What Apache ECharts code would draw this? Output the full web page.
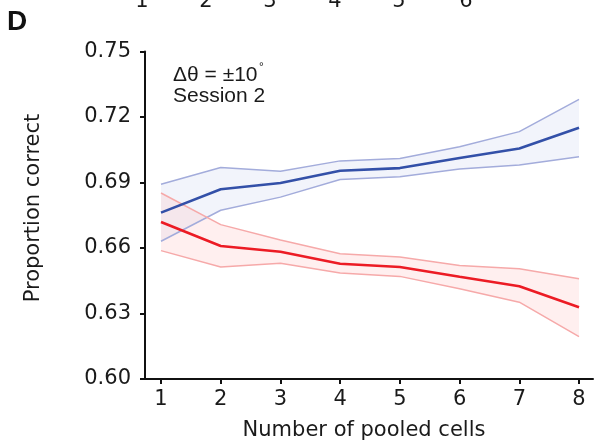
<!DOCTYPE html>
<html>
<head>
<meta charset="utf-8">
<script src="https://cdn.jsdelivr.net/npm/echarts@6/dist/echarts.min.js"></script>
<style>html,body{margin:0;padding:0;background:#fff}#c{width:597px;height:445px}</style>
</head>
<body>
<div id="c"></div>
<script>
// ---- data ----
var pooledCells = [1, 2, 3, 4, 5, 6, 7, 8];
var blueMean  = [0.6762, 0.6869, 0.6898, 0.6954, 0.6966, 0.7012, 0.7056, 0.7151];
var blueUpper = [0.6892, 0.6969, 0.6952, 0.6999, 0.7010, 0.7064, 0.7133, 0.7281];
var blueLower = [0.6631, 0.6773, 0.6833, 0.6914, 0.6926, 0.6962, 0.6980, 0.7018];
var redMean   = [0.6719, 0.6609, 0.6583, 0.6528, 0.6513, 0.6468, 0.6425, 0.6329];
var redUpper  = [0.6852, 0.6707, 0.6637, 0.6574, 0.6559, 0.6520, 0.6505, 0.6459];
var redLower  = [0.6588, 0.6513, 0.6530, 0.6485, 0.6470, 0.6413, 0.6352, 0.6194];
var yTicks = [0.60, 0.63, 0.66, 0.69, 0.72, 0.75];
var topCutLabels = ['1', '2', '3', '4', '5', '6'];

var FONT = 'DejaVu Sans';

function pairs(ys) { return pooledCells.map(function (x, i) { return [x, ys[i]]; }); }

function bandSeries(upper, lower, fill) {
  return {
    type: 'custom',
    silent: true,
    z: 1,
    encode: { x: 0, y: 1 },
    data: pairs(upper).concat(pairs(lower)),
    renderItem: function (params, api) {
      if (params.dataIndex !== 0) return;
      var pts = [];
      for (var i = 0; i < pooledCells.length; i++) pts.push(api.coord([pooledCells[i], upper[i]]));
      for (var j = pooledCells.length - 1; j >= 0; j--) pts.push(api.coord([pooledCells[j], lower[j]]));
      return { type: 'polygon', shape: { points: pts }, style: { fill: fill } };
    }
  };
}

function lineSeries(ys, color, width, z) {
  return {
    type: 'line', data: pairs(ys), symbol: 'none', silent: true, z: z,
    lineStyle: { color: color, width: width }
  };
}

var topXs = [142, 206, 270, 335, 399, 466];
var topGraphics = topCutLabels.map(function (t, i) {
  return { type: 'text', x: topXs[i], y: 2, style: { text: t, font: '21px "DejaVu Sans"', fill: '#1a1a1a', textAlign: 'center', textVerticalAlign: 'middle' } };
});

var chart = echarts.init(document.getElementById('c'), null, { renderer: 'canvas' });
chart.setOption({
  animation: false,
  backgroundColor: '#ffffff',
  grid: { left: 145, right: 4, top: 51.5, bottom: 66 },
  xAxis: {
    type: 'value', min: 0.732, max: 8.234,
    splitLine: { show: false },
    axisLine: { lineStyle: { color: '#111', width: 2 } },
    axisTick: { show: true, length: 5, lineStyle: { color: '#111', width: 2 }, customValues: pooledCells },
    axisLabel: { customValues: pooledCells, fontFamily: FONT, fontSize: 21, color: '#1a1a1a', margin: 10 }
  },
  yAxis: {
    type: 'value', min: 0.60, max: 0.75,
    splitLine: { show: false },
    axisLine: { show: true, lineStyle: { color: '#111', width: 2 } },
    axisTick: { show: true, length: 5, lineStyle: { color: '#111', width: 2 }, customValues: yTicks },
    axisLabel: { customValues: yTicks, fontFamily: FONT, fontSize: 21, color: '#1a1a1a', margin: 14,
      formatter: function (v) { return v.toFixed(2); } }
  },
  series: [
    bandSeries(blueUpper, blueLower, 'rgba(205,213,238,0.26)'),
    bandSeries(redUpper, redLower, 'rgba(255,195,195,0.26)'),
    lineSeries(blueUpper, '#a3acdb', 1.5, 3),
    lineSeries(blueLower, '#a3acdb', 1.5, 3),
    lineSeries(redUpper, '#f6a9a9', 1.5, 3),
    lineSeries(redLower, '#f6a9a9', 1.5, 3),
    lineSeries(blueMean, '#3350a8', 2.6, 4),
    lineSeries(redMean, '#ec1b24', 2.6, 4)
  ],
  graphic: topGraphics.concat([
    { type: 'text', x: 7, y: 22, style: { text: 'D', font: 'bold 28px "Liberation Sans"', fill: '#111', textVerticalAlign: 'middle' } },
    { type: 'text', x: 173, y: 75, style: { text: 'Δθ = ±10', font: '21px "Liberation Sans"', fill: '#1a1a1a', textVerticalAlign: 'middle' } },
    { type: 'text', x: 259, y: 68, style: { text: '°', font: '12px "Liberation Sans"', fill: '#1a1a1a', textVerticalAlign: 'middle' } },
    { type: 'text', x: 173, y: 96, style: { text: 'Session 2', font: '21px "Liberation Sans"', fill: '#1a1a1a', textVerticalAlign: 'middle' } },
    { type: 'text', x: 364, y: 431, style: { text: 'Number of pooled cells', font: '21px "DejaVu Sans"', fill: '#1a1a1a', textAlign: 'center', textVerticalAlign: 'middle' } },
    { type: 'text', x: 34, y: 208, rotation: Math.PI / 2, style: { text: 'Proportion correct', font: '21px "DejaVu Sans"', fill: '#1a1a1a', textAlign: 'center', textVerticalAlign: 'middle' } }
  ])
});
</script>
</body>
</html>
